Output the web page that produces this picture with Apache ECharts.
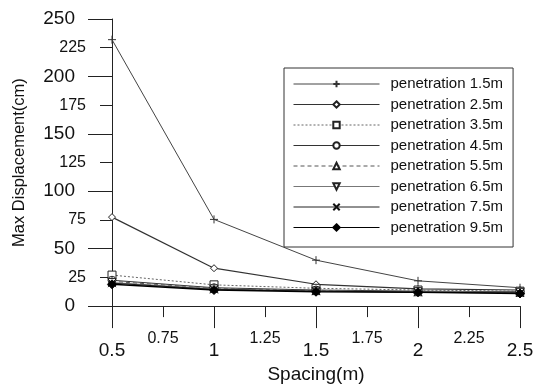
<!DOCTYPE html>
<html>
<head>
<meta charset="utf-8">
<script src="https://cdn.jsdelivr.net/npm/echarts@6/dist/echarts.min.js"></script>
<style>
  html, body { margin: 0; padding: 0; background: #fff; }
  #chart { width: 539px; height: 389px; }
</style>
</head>
<body>
<div id="chart"></div>
<script>
// Pile spacing (m) on the x axis
const spacing = [0.5, 1, 1.5, 2, 2.5];

// Maximum displacement (cm) for each penetration depth
const pen15 = [232, 75.5, 40, 22, 16];
const pen25 = [77.5, 33, 19, 15, 14];
const pen35 = [27, 18.5, 15.5, 14, 13];
const pen45 = [22.5, 16, 14, 13, 12.5];
const pen55 = [21.5, 15.5, 13.5, 12.5, 12];
const pen65 = [20.5, 15, 13, 12.5, 12];
const pen75 = [20, 14.5, 13, 12, 11.5];
const pen95 = [19, 14, 12.5, 12, 11];

const seriesNames = [
  'penetration 1.5m', 'penetration 2.5m', 'penetration 3.5m', 'penetration 4.5m',
  'penetration 5.5m', 'penetration 6.5m', 'penetration 7.5m', 'penetration 9.5m'
];

// Tick labels: majors are set larger and further from the axis
const xMajorTicks = [0.5, 1, 1.5, 2, 2.5];
const xMinorTicks = [0.75, 1.25, 1.75, 2.25];
const yMajorTicks = [0, 50, 100, 150, 200, 250];
const yMinorTicks = [25, 75, 125, 175, 225];

const FONT = '"Liberation Sans", Arial, Helvetica, sans-serif';
const near = (list, v) => list.some(t => Math.abs(t - v) < 1e-6);

function pairs(vals) { return spacing.map((x, i) => [x, vals[i]]); }

const plusPath = 'path://M5,0L5,10M0,5L10,5';
const crossPath = 'path://M0,0L10,10M10,0L0,10';

function makeSeries(name, vals, opt) {
  return {
    name: name,
    type: 'line',
    xAxisIndex: 0,
    yAxisIndex: 0,
    data: pairs(vals),
    symbol: opt.symbol,
    symbolSize: opt.size || 7,
    showAllSymbol: true,
    lineStyle: { color: opt.line, width: opt.width || 1, type: opt.dash || 'solid' },
    itemStyle: {
      color: opt.fill || '#fff',
      borderColor: opt.edge || '#222',
      borderWidth: 1
    },
    emphasis: { disabled: true },
    animation: false,
    z: opt.z || 2
  };
}

const chart = echarts.init(document.getElementById('chart'), null, { renderer: 'canvas' });

const tickLine = { color: '#222', width: 1 };

chart.setOption({
  backgroundColor: '#fff',
  animation: false,
  grid: { left: 112, right: 19, top: 19, bottom: 78, containLabel: false },
  legend: {
    orient: 'vertical',
    left: 284,
    top: 68,
    itemWidth: 86,
    itemHeight: 8,
    itemGap: 5.5,
    padding: [8.5, 10, 12, 9],
    borderColor: '#333',
    borderWidth: 1,
    backgroundColor: '#fff',
    lineStyle: { width: 1 },
    textStyle: { fontFamily: FONT, fontSize: 15, lineHeight: 15, color: '#111', padding: [0, 0, 0, 6] },
    data: seriesNames
  },
  xAxis: [
    {
      type: 'value', position: 'bottom',
      min: 0.5, max: 2.5, interval: 0.5,
      name: 'Spacing(m)', nameLocation: 'middle', nameGap: 56,
      nameTextStyle: { fontFamily: FONT, fontSize: 19, color: '#111' },
      axisLine: { show: true, onZero: false, lineStyle: tickLine },
      axisTick: { show: true, length: 22, lineStyle: tickLine },
      minorTick: { show: true, splitNumber: 2, length: 11, lineStyle: tickLine },
      splitLine: { show: false },
      axisLabel: {
        margin: 35, fontFamily: FONT, fontSize: 19, color: '#111',
        formatter: v => near(xMajorTicks, v) ? String(v) : ''
      }
    },
    {
      type: 'value', position: 'bottom',
      min: 0.5, max: 2.5, interval: 0.25,
      axisLine: { show: false }, axisTick: { show: false }, splitLine: { show: false },
      axisLabel: {
        margin: 24, fontFamily: FONT, fontSize: 16, color: '#111',
        formatter: v => near(xMinorTicks, v) ? String(v) : ''
      }
    }
  ],
  yAxis: [
    {
      type: 'value', position: 'left',
      min: 0, max: 250, interval: 50,
      name: 'Max Displacement(cm)', nameLocation: 'middle', nameGap: 84,
      nameTextStyle: { fontFamily: FONT, fontSize: 16.5, color: '#111' },
      axisLine: { show: true, onZero: false, lineStyle: tickLine },
      axisTick: { show: true, length: 24, lineStyle: tickLine },
      minorTick: { show: true, splitNumber: 2, length: 12, lineStyle: tickLine },
      splitLine: { show: false },
      axisLabel: {
        margin: 37, fontFamily: FONT, fontSize: 19, color: '#111',
        formatter: v => near(yMajorTicks, v) ? String(v) : ''
      }
    },
    {
      type: 'value', position: 'left',
      min: 0, max: 250, interval: 25,
      axisLine: { show: false }, axisTick: { show: false }, splitLine: { show: false },
      axisLabel: {
        margin: 26, fontFamily: FONT, fontSize: 16, color: '#111',
        formatter: v => near(yMinorTicks, v) ? String(v) : ''
      }
    }
  ],
  series: [
    makeSeries(seriesNames[0], pen15, { symbol: plusPath, size: 8, line: '#444', fill: 'none', edge: '#333' }),
    makeSeries(seriesNames[1], pen25, { symbol: 'diamond', size: 7, line: '#333', width: 1.2 }),
    makeSeries(seriesNames[2], pen35, { symbol: 'rect', size: 8, line: '#666', dash: [2, 2] }),
    makeSeries(seriesNames[3], pen45, { symbol: 'circle', size: 8, line: '#333' }),
    makeSeries(seriesNames[4], pen55, { symbol: 'triangle', size: 8, line: '#555', dash: [4, 3] }),
    makeSeries(seriesNames[5], pen65, { symbol: 'path://M0,0L10,0L5,9Z', size: 8, line: '#777' }),
    makeSeries(seriesNames[6], pen75, { symbol: crossPath, size: 8, line: '#222', fill: 'none', edge: '#111' }),
    makeSeries(seriesNames[7], pen95, { symbol: 'diamond', size: 9, line: '#000', width: 1.6, fill: '#000', edge: '#000', z: 3 })
  ]
});
</script>
</body>
</html>
